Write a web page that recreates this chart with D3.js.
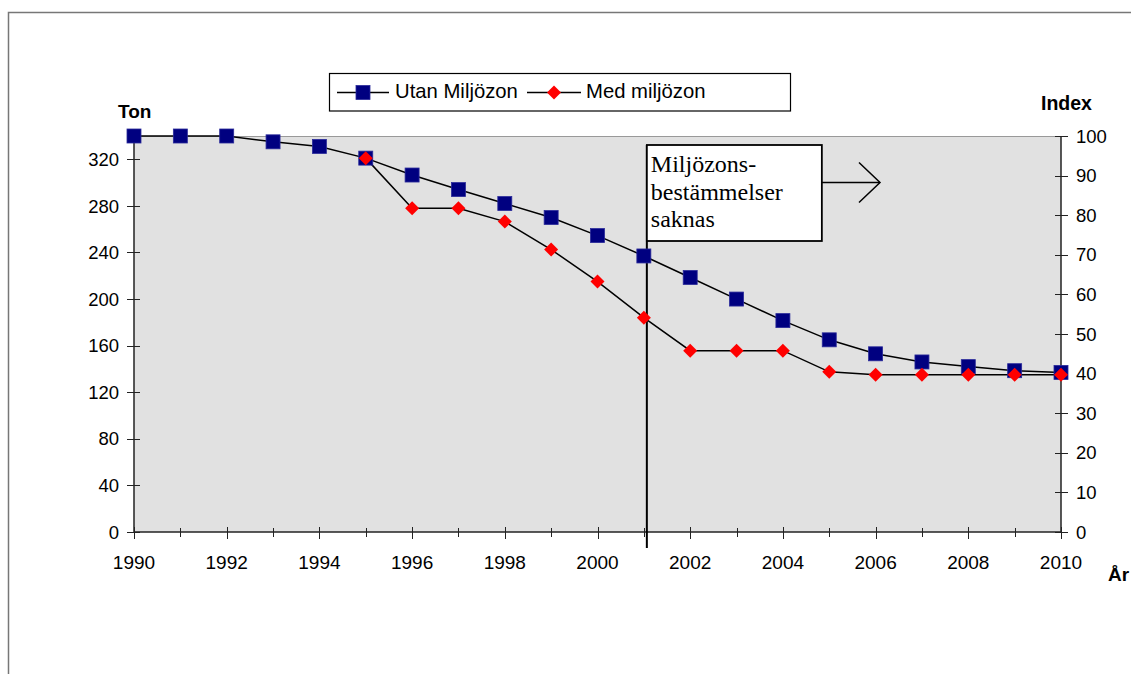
<!DOCTYPE html>
<html>
<head>
<meta charset="utf-8">
<script src="https://cdn.jsdelivr.net/npm/d3@7"></script>
<style>
  html, body { margin: 0; padding: 0; background: #fff; }
  svg { display: block; }
  text { font-family: "Liberation Sans", Arial, sans-serif; fill: #000; }
</style>
</head>
<body>
<svg id="chart" width="1131" height="674"></svg>
<script>
// Years on the x axis
const years = d3.range(1990, 2011);
// Emissions in ton without the environmental zone
const utanValues = [340, 340, 340, 335, 331, 321, 306.5, 294, 282, 270, 254.5, 237, 218.5, 200, 181.5, 165, 153, 146, 142, 138.5, 137];
// Emissions in ton with the environmental zone (from 1995)
const medYears = d3.range(1995, 2011);
const medValues = [321, 278, 278, 266.5, 242.5, 215, 184, 155.7, 155.7, 155.7, 137.5, 135, 135, 135, 135, 135];
// Axis ticks
const tonTicks = [0, 40, 80, 120, 160, 200, 240, 280, 320];
const indexTicks = [0, 10, 20, 30, 40, 50, 60, 70, 80, 90, 100];
const yearTicks = years;
const yearLabels = d3.range(1990, 2011, 2);
// Series names and annotation text
const seriesNames = ["Utan Miljözon", "Med miljözon"];
const noteLines = ["Miljözons-", "bestämmelser", "saknas"];
const noteYear = 2001;

const svg = d3.select("#chart");
const plot = { left: 134, right: 1061, top: 136, bottom: 532 };

const x = d3.scaleLinear().domain([1990, 2010]).range([plot.left, plot.right]);
const yTon = d3.scaleLinear().domain([0, 340]).range([plot.bottom, plot.top]);
const yIdx = d3.scaleLinear().domain([0, 100]).range([plot.bottom, plot.top]);

// Outer frame
svg.append("rect").attr("x", 8.5).attr("y", 12.5).attr("width", 1140).attr("height", 700)
  .attr("fill", "none").attr("stroke", "#777").attr("stroke-width", 1.5);

// Plot area
svg.append("rect").attr("x", plot.left).attr("y", plot.top)
  .attr("width", plot.right - plot.left).attr("height", plot.bottom - plot.top)
  .attr("fill", "#e1e1e1");
svg.append("line").attr("x1", plot.left).attr("x2", plot.right)
  .attr("y1", plot.top + 0.5).attr("y2", plot.top + 0.5)
  .attr("stroke", "#999").attr("stroke-width", 1);

const axisColor = "#222";

// Left axis (ton)
const gL = svg.append("g");
gL.append("line").attr("x1", plot.left).attr("x2", plot.left)
  .attr("y1", plot.top).attr("y2", plot.bottom).attr("stroke", axisColor).attr("stroke-width", 1.5);
gL.selectAll("line.t").data(tonTicks).join("line").attr("class", "t")
  .attr("x1", plot.left - 7).attr("x2", plot.left + 6)
  .attr("y1", d => Math.round(yTon(d)) + 0.5).attr("y2", d => Math.round(yTon(d)) + 0.5)
  .attr("stroke", axisColor);
gL.selectAll("text").data(tonTicks).join("text")
  .attr("x", plot.left - 15).attr("y", d => yTon(d)).attr("dy", "0.36em")
  .attr("text-anchor", "end").attr("font-size", 18.5).text(d => d);

// Right axis (index)
const gR = svg.append("g");
gR.append("line").attr("x1", plot.right).attr("x2", plot.right)
  .attr("y1", plot.top).attr("y2", plot.bottom).attr("stroke", axisColor).attr("stroke-width", 1.5);
gR.selectAll("line.t").data(indexTicks).join("line").attr("class", "t")
  .attr("x1", plot.right - 6).attr("x2", plot.right + 7)
  .attr("y1", d => Math.round(yIdx(d)) + 0.5).attr("y2", d => Math.round(yIdx(d)) + 0.5)
  .attr("stroke", axisColor);
gR.selectAll("text").data(indexTicks).join("text")
  .attr("x", plot.right + 15).attr("y", d => yIdx(d)).attr("dy", "0.36em")
  .attr("text-anchor", "start").attr("font-size", 18.5).text(d => d);

// X axis (years)
const gX = svg.append("g");
gX.append("line").attr("x1", plot.left).attr("x2", plot.right)
  .attr("y1", plot.bottom).attr("y2", plot.bottom).attr("stroke", axisColor).attr("stroke-width", 1.5);
gX.selectAll("line.t").data(yearTicks).join("line").attr("class", "t")
  .attr("x1", d => Math.round(x(d)) + 0.5).attr("x2", d => Math.round(x(d)) + 0.5)
  .attr("y1", d => plot.bottom - (d % 2 === 0 ? 5 : 4))
  .attr("y2", d => plot.bottom + (d % 2 === 0 ? 7 : 5))
  .attr("stroke", axisColor);
gX.selectAll("text").data(yearLabels).join("text")
  .attr("x", d => x(d)).attr("y", 569)
  .attr("text-anchor", "middle").attr("font-size", 19).text(d => d);

// Axis titles
svg.append("text").attr("x", 118).attr("y", 118).attr("font-size", 19)
  .attr("font-weight", "bold").text("Ton");
svg.append("text").attr("x", 1041).attr("y", 110).attr("font-size", 19.5)
  .attr("font-weight", "bold").text("Index");
svg.append("text").attr("x", 1108).attr("y", 581).attr("font-size", 19)
  .attr("font-weight", "bold").text("År");

// Annotation: vertical marker line
const noteX = x(noteYear) + 3;
svg.append("line").attr("x1", noteX).attr("x2", noteX)
  .attr("y1", 145).attr("y2", 548).attr("stroke", "#000").attr("stroke-width", 2);

// Series
const line = d3.line().x(d => x(d[0])).y(d => yTon(d[1]));
const utan = years.map((yr, i) => [yr, utanValues[i]]);
const med = medYears.map((yr, i) => [yr, medValues[i]]);

svg.append("path").datum(utan).attr("d", line)
  .attr("fill", "none").attr("stroke", "#000").attr("stroke-width", 1.5);
svg.append("path").datum(med).attr("d", line)
  .attr("fill", "none").attr("stroke", "#000").attr("stroke-width", 1.5);

const sq = 14, dm = 7;
svg.selectAll("rect.utan").data(utan).join("rect").attr("class", "utan")
  .attr("x", d => x(d[0]) - sq / 2).attr("y", d => yTon(d[1]) - sq / 2)
  .attr("width", sq).attr("height", sq).attr("fill", "#000080")
  .attr("stroke", "#2a2a9a").attr("stroke-width", 0.8);
const diamond = (cx, cy, r) => `M${cx},${cy - r}L${cx + r},${cy}L${cx},${cy + r}L${cx - r},${cy}Z`;
svg.selectAll("path.med").data(med).join("path").attr("class", "med")
  .attr("d", d => diamond(x(d[0]), yTon(d[1]), dm)).attr("fill", "#ff0000");

// Annotation box and arrow
const box = { x: noteX, y: 145, w: 175, h: 96 };
svg.append("rect").attr("x", box.x).attr("y", box.y).attr("width", box.w).attr("height", box.h)
  .attr("fill", "#fff").attr("stroke", "#000").attr("stroke-width", 1.8);
svg.append("g").selectAll("text").data(noteLines).join("text")
  .attr("x", box.x + 4).attr("y", (d, i) => 172 + i * 27.5)
  .style("font-family", '"Liberation Serif", "Times New Roman", serif')
  .attr("font-size", 24).text(d => d);
const ay = 182.5, ax0 = box.x + box.w, ax1 = 880;
svg.append("line").attr("x1", ax0).attr("x2", ax1).attr("y1", ay).attr("y2", ay)
  .attr("stroke", "#000").attr("stroke-width", 1.5);
svg.append("path").attr("d", `M${ax1 - 21},${ay - 20}L${ax1},${ay}L${ax1 - 21},${ay + 20}`)
  .attr("fill", "none").attr("stroke", "#000").attr("stroke-width", 1.5);

// Legend
const lg = svg.append("g");
lg.append("rect").attr("x", 329.5).attr("y", 73.5).attr("width", 461).attr("height", 37.5)
  .attr("fill", "#fff").attr("stroke", "#000").attr("stroke-width", 1.2);
const ly = 92.5;
lg.append("line").attr("x1", 337).attr("x2", 389).attr("y1", ly).attr("y2", ly).attr("stroke", "#000").attr("stroke-width", 1.5);
lg.append("rect").attr("x", 363 - sq / 2).attr("y", ly - sq / 2).attr("width", sq).attr("height", sq)
  .attr("fill", "#000080").attr("stroke", "#2a2a9a").attr("stroke-width", 0.8);
lg.append("text").attr("x", 395).attr("y", 98).attr("font-size", 20.3).text(seriesNames[0]);
lg.append("line").attr("x1", 527).attr("x2", 581).attr("y1", ly).attr("y2", ly).attr("stroke", "#000").attr("stroke-width", 1.5);
lg.append("path").attr("d", diamond(554, ly, dm)).attr("fill", "#ff0000");
lg.append("text").attr("x", 586).attr("y", 98).attr("font-size", 20.3).text(seriesNames[1]);
</script>
</body>
</html>
